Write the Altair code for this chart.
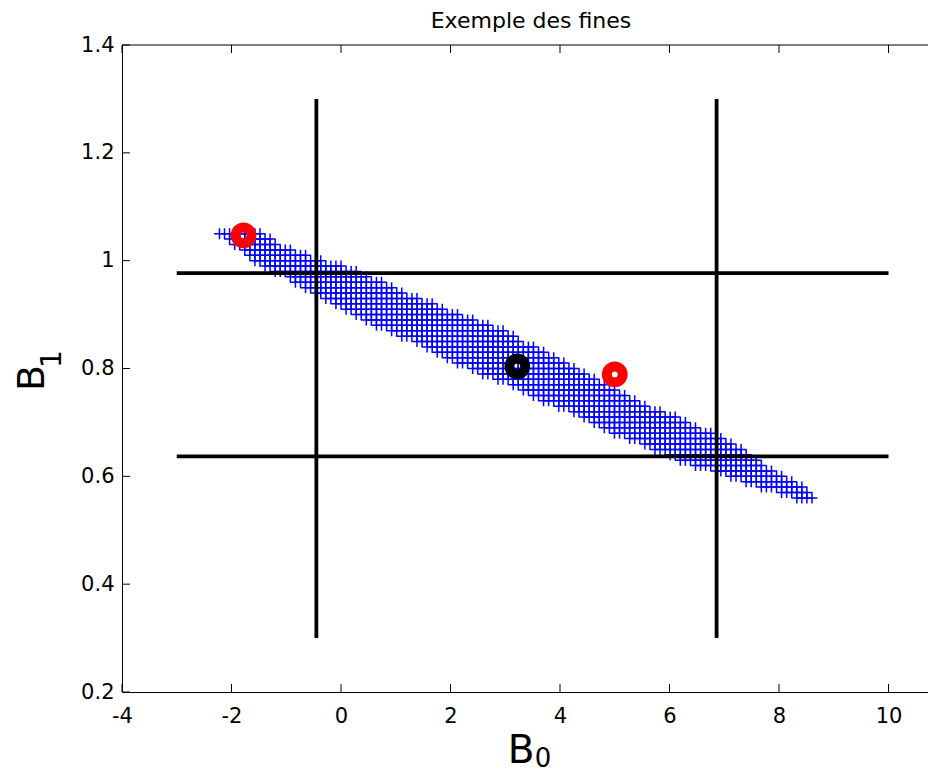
import math
import altair as alt
import pandas as pd

# ---------------- data ----------------
# confidence band drawn as a lattice of "+" markers: one row per B1 value
row_b1 = [1.05, 1.04, 1.03, 1.02, 1.01, 1.00, 0.99, 0.98, 0.97, 0.96,
          0.95, 0.94, 0.93, 0.92, 0.91, 0.90, 0.89, 0.88, 0.87, 0.86,
          0.85, 0.84, 0.83, 0.82, 0.81, 0.80, 0.79, 0.78, 0.77, 0.76,
          0.75, 0.74, 0.73, 0.72, 0.71, 0.70, 0.69, 0.68, 0.67, 0.66,
          0.65, 0.64, 0.63, 0.62, 0.61, 0.60, 0.59, 0.58, 0.57, 0.56]
row_b0_min = [-2.22, -2.09, -1.94, -1.81, -1.72, -1.59, -1.39, -1.19, -0.96, -0.81,
              -0.66, -0.50, -0.32, -0.12, 0.07, 0.25, 0.43, 0.62, 0.87, 1.13,
              1.35, 1.57, 1.75, 1.93, 2.15, 2.37, 2.59, 2.86, 3.12, 3.30,
              3.50, 3.72, 3.94, 4.21, 4.40, 4.62, 4.80, 5.02, 5.28, 5.53,
              5.75, 5.97, 6.22, 6.50, 6.80, 7.10, 7.40, 7.70, 8.00, 8.35]
row_b0_max = [-1.43, -1.28, -1.16, -0.90, -0.61, -0.35, -0.02, 0.25, 0.49, 0.72,
              0.94, 1.16, 1.40, 1.64, 1.89, 2.17, 2.42, 2.70, 2.95, 3.12,
              3.28, 3.50, 3.72, 3.92, 4.11, 4.29, 4.47, 4.64, 4.82, 5.00,
              5.18, 5.35, 5.53, 5.80, 6.08, 6.30, 6.52, 6.73, 6.92, 7.10,
              7.28, 7.45, 7.59, 7.74, 7.92, 8.10, 8.27, 8.40, 8.52, 8.60]
grid_b0_origin = -2.22
grid_b0_step = 0.0925

# black interval lines
vline_b0 = [-0.45, 6.86]
vline_b1_range = [0.30, 1.30]
hline_b1 = [0.977, 0.637]
hline_b0_range = [-3.0, 10.0]

# ring markers
red_b0 = [-1.78, 5.00]
red_b1 = [1.047, 0.789]
black_b0 = [3.22]
black_b1 = [0.804]

x_ticks = [-4, -2, 0, 2, 4, 6, 8, 10]
y_ticks = [0.2, 0.4, 0.6, 0.8, 1.0, 1.2, 1.4]
title_text = "Exemple des fines"

# ---------------- tables ----------------
pts = []
for b1, lo, hi in zip(row_b1, row_b0_min, row_b0_max):
    k0 = math.ceil((lo - grid_b0_origin) / grid_b0_step - 0.3)
    k1 = math.floor((hi - grid_b0_origin) / grid_b0_step + 0.3)
    for k in range(k0, k1 + 1):
        pts.append({"B0": grid_b0_origin + k * grid_b0_step, "B1": b1})
band_df = pd.DataFrame(pts)

vl_df = pd.DataFrame({"b0": vline_b0, "lo": [vline_b1_range[0]] * 2, "hi": [vline_b1_range[1]] * 2})
hl_df = pd.DataFrame({"b1": hline_b1, "lo": [hline_b0_range[0]] * 2, "hi": [hline_b0_range[1]] * 2})
red_df = pd.DataFrame({"B0": red_b0, "B1": red_b1})
blk_df = pd.DataFrame({"B0": black_b0, "B1": black_b1})
xt_df = pd.DataFrame({"v": x_ticks})
yt_df = pd.DataFrame({"v": y_ticks})
one = pd.DataFrame({"a": [0]})

W, H = 806, 647
FONT = "DejaVu Sans"
xs = alt.Scale(domain=[-4, -4 + W / 54.75], nice=False, zero=False)
ys = alt.Scale(domain=[0.2, 1.4], nice=False, zero=False)

axX = alt.Axis(values=x_ticks, ticks=False, tickSize=0, grid=False,
               domainColor="black", domainWidth=1, labelColor="black",
               labelFont=FONT, labelFontSize=21, labelPadding=13,
               labelFlush=False, labelOverlap=False, title=None,
               labelExpr="'' + datum.value")
axY = alt.Axis(values=y_ticks, ticks=False, tickSize=0, grid=False,
               domainColor="black", domainWidth=1, labelColor="black",
               labelFont=FONT, labelFontSize=21, labelPadding=8,
               labelFlush=False, labelOverlap=False, title=None,
               labelExpr="datum.value == 1 ? '1' : format(datum.value, '.1f')")

plus = "M-1,0L1,0M0,-1L0,1"

band = alt.Chart(band_df).mark_point(
    shape=plus, filled=False, stroke="#0000ff", strokeWidth=1.5, size=121, opacity=1
).encode(
    x=alt.X("B0:Q", scale=xs, axis=axX, title=None),
    y=alt.Y("B1:Q", scale=ys, axis=axY, title=None),
)

vlines = alt.Chart(vl_df).mark_rule(color="black", strokeWidth=3.8).encode(
    x=alt.X("b0:Q", scale=xs, axis=axX, title=None),
    y=alt.Y("lo:Q", scale=ys, axis=axY, title=None),
    y2="hi:Q",
)
hlines = alt.Chart(hl_df).mark_rule(color="black", strokeWidth=3.8).encode(
    x=alt.X("lo:Q", scale=xs, axis=axX, title=None),
    x2="hi:Q",
    y=alt.Y("b1:Q", scale=ys, axis=axY, title=None),
)

red = alt.Chart(red_df).mark_point(
    shape="circle", filled=False, stroke="#ff0000", strokeWidth=10, size=250, opacity=1
).encode(x=alt.X("B0:Q", scale=xs, axis=axX, title=None),
         y=alt.Y("B1:Q", scale=ys, axis=axY, title=None))
blk = alt.Chart(blk_df).mark_point(
    shape="circle", filled=False, stroke="#000000", strokeWidth=10, size=250, opacity=1
).encode(x=alt.X("B0:Q", scale=xs, axis=axX, title=None),
         y=alt.Y("B1:Q", scale=ys, axis=axY, title=None))

# inward tick marks and top frame line
tick_len = 8
bt = alt.Chart(xt_df).mark_rule(color="black", strokeWidth=1).encode(
    x=alt.X("v:Q", scale=xs, axis=axX, title=None), y=alt.value(H), y2=alt.value(H - tick_len))
tt = alt.Chart(xt_df).mark_rule(color="black", strokeWidth=1).encode(
    x=alt.X("v:Q", scale=xs, axis=axX, title=None), y=alt.value(0), y2=alt.value(tick_len))
lt = alt.Chart(yt_df).mark_rule(color="black", strokeWidth=1).encode(
    y=alt.Y("v:Q", scale=ys, axis=axY, title=None), x=alt.value(0), x2=alt.value(tick_len))
top = alt.Chart(one).mark_rule(color="black", strokeWidth=1).encode(
    x=alt.value(0), x2=alt.value(W), y=alt.value(0))

# texts
title = alt.Chart(one).mark_text(
    text=title_text, font=FONT, fontSize=22, color="black", align="center", baseline="alphabetic"
).encode(x=alt.value(409), y=alt.value(-17))
xb = alt.Chart(one).mark_text(
    text="B", font=FONT, fontSize=39, color="black", align="center", baseline="alphabetic"
).encode(x=alt.value(399), y=alt.value(718))
xsub = alt.Chart(one).mark_text(
    text="0", font=FONT, fontSize=26, color="black", align="center", baseline="alphabetic"
).encode(x=alt.value(421), y=alt.value(722))
yb = alt.Chart(one).mark_text(
    text="B", font=FONT, fontSize=38, color="black", align="center", baseline="alphabetic", angle=270
).encode(x=alt.value(-78), y=alt.value(333))
ysub = alt.Chart(one).mark_text(
    text="1", font=FONT, fontSize=28, color="black", align="center", baseline="alphabetic", angle=270
).encode(x=alt.value(-61), y=alt.value(314))

chart = alt.layer(
    band, vlines, hlines, red, blk, bt, tt, lt, top, title, xb, xsub, yb, ysub
).properties(
    width=W, height=H,
    background="white",
    autosize=alt.AutoSizeParams(type="none"),
    padding={"left": 114, "top": 37, "right": 0, "bottom": 82},
).configure_view(stroke=None)

chart.save("out.html", embed_options={"renderer": "svg", "actions": False})
